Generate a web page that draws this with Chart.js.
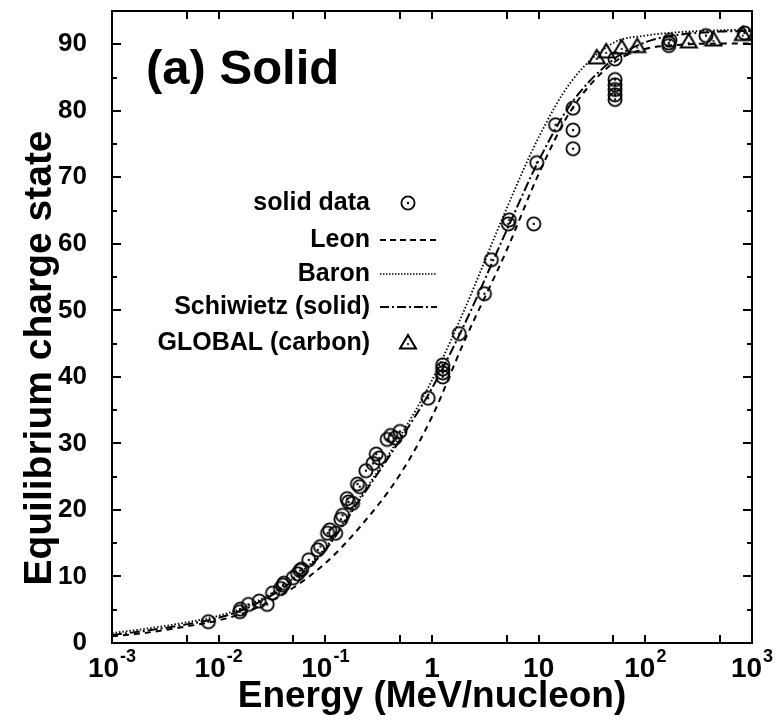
<!DOCTYPE html>
<html>
<head>
<title>Equilibrium charge state</title>
<script src="https://cdn.jsdelivr.net/npm/chart.js"></script>
<style>body{margin:0;background:#fff}</style>
</head>
<body>
<canvas id="myChart" width="776" height="723"></canvas>
<script>
// model curves at each energy (MeV/nucleon)
const curveE = [0.001, 0.002, 0.005, 0.01, 0.02, 0.05, 0.1, 0.2, 0.5, 1, 2, 5, 10, 20, 50, 100, 200, 500, 1000];
const leonQ = [1.0, 1.5, 2.5, 3.4, 4.9, 8.3, 12.0, 17.0, 25.3, 34.0, 45.3, 59.0, 70.5, 80.0, 87.2, 89.3, 89.9, 90.1, 90.1];
const baronQ = [1.5, 2.1, 3.1, 4.1, 5.8, 9.7, 14.3, 21.3, 31.0, 39.5, 50.0, 65.3, 76.0, 84.3, 90.2, 91.3, 91.8, 92.1, 92.2];
const schiwietzQ = [1.2, 1.8, 2.8, 3.8, 5.5, 9.4, 14.0, 21.0, 30.5, 38.3, 47.8, 62.0, 72.5, 81.0, 87.7, 90.3, 91.4, 91.9, 92.0];

// measured solid data
const solidE = [0.008, 0.0158, 0.016, 0.019, 0.024, 0.0285, 0.032, 0.038, 0.040, 0.041, 0.05, 0.055, 0.058, 0.06, 0.07,
  0.085, 0.09, 0.105, 0.11, 0.125, 0.14, 0.145, 0.16, 0.165, 0.18, 0.2, 0.21, 0.24, 0.28, 0.3, 0.32, 0.38, 0.41, 0.45, 0.5,
  0.92, 1.26, 1.26, 1.26, 1.26, 1.8, 3.1, 3.6, 5.2, 5.3, 9.0, 9.6, 14.4, 21, 21, 21,
  52, 52, 52, 52, 52, 52, 166, 166, 170, 370, 850];
const solidQ = [3.2, 4.7, 5.1, 5.8, 6.3, 5.8, 7.5, 8.2, 8.7, 9.0, 9.8, 10.4, 10.9, 11.1, 12.5,
  14.0, 14.5, 16.5, 17.0, 16.5, 18.6, 19.2, 21.7, 21.2, 21.0, 23.9, 23.5, 25.9, 27.0, 28.4, 27.8, 30.6, 31.2, 30.8, 31.8,
  36.8, 40.0, 40.6, 41.2, 41.8, 46.5, 52.5, 57.6, 63.0, 63.6, 63.0, 72.2, 77.9, 80.4, 77.1, 74.3,
  87.8, 84.7, 83.9, 83.2, 82.4, 81.7, 89.8, 90.2, 90.6, 91.3, 91.7];

// GLOBAL (carbon)
const globalE = [35, 43, 60, 84, 255, 435, 820];
const globalQ = [88.1, 89.0, 89.6, 89.8, 90.5, 90.8, 91.6];

const yTickValues = [0, 10, 20, 30, 40, 50, 60, 70, 80, 90];
const yMarks = [5, 10, 15, 20, 25, 30, 35, 40, 45, 50, 55, 60, 65, 70, 75, 80, 85, 90];
const xMarks = [0.001, 0.005, 0.01, 0.05, 0.1, 0.5, 1, 5, 10, 50, 100, 500, 1000];
const xLabelValues = [0.001, 0.01, 0.1, 1, 10, 100, 1000];
const xLabelBase = ['10', '10', '10', '1', '10', '10', '10'];
const xLabelExp = ['-3', '-2', '-1', '', '', '2', '3'];

const legendLabels = ['solid data', 'Leon', 'Baron', 'Schiwietz (solid)', 'GLOBAL (carbon)'];
const FONT = "'Liberation Sans', Arial, sans-serif";

function pts(xs, ys) { return xs.map((v, i) => ({x: v, y: ys[i]})); }

// marker images
function circleDot() {
  const c = document.createElement('canvas');
  c.width = 18; c.height = 18;
  const g = c.getContext('2d');
  g.strokeStyle = '#000'; g.lineWidth = 1.8;
  g.beginPath(); g.arc(9, 9, 6.6, 0, Math.PI * 2); g.stroke();
  g.fillStyle = '#000';
  g.beginPath(); g.arc(9, 9, 1.2, 0, Math.PI * 2); g.fill();
  return c;
}
function triDot() {
  const c = document.createElement('canvas');
  c.width = 20; c.height = 18;
  const g = c.getContext('2d');
  g.strokeStyle = '#000'; g.lineWidth = 2; g.lineJoin = 'miter';
  g.beginPath(); g.moveTo(10, 2); g.lineTo(18, 15.5); g.lineTo(2, 15.5); g.closePath(); g.stroke();
  g.fillStyle = '#000';
  g.beginPath(); g.arc(10, 11, 1.1, 0, Math.PI * 2); g.fill();
  return c;
}
const circImg = circleDot();
const triImg = triDot();

const decor = {
  id: 'decor',
  afterDatasetsDraw(chart) {
    const {ctx, chartArea: a, scales: {x, y}} = chart;
    ctx.save();
    ctx.strokeStyle = '#000';
    ctx.lineWidth = 2;
    ctx.strokeRect(a.left, a.top, a.right - a.left, a.bottom - a.top);
    ctx.beginPath();
    xMarks.forEach(v => {
      const px = Math.round(x.getPixelForValue(v));
      ctx.moveTo(px, a.bottom); ctx.lineTo(px, a.bottom - 8);
      ctx.moveTo(px, a.top); ctx.lineTo(px, a.top + 8);
    });
    yMarks.forEach(v => {
      const py = Math.round(y.getPixelForValue(v));
      const len = v % 10 === 0 ? 9 : 5;
      ctx.moveTo(a.left, py); ctx.lineTo(a.left + len, py);
      ctx.moveTo(a.right, py); ctx.lineTo(a.right - len, py);
    });
    ctx.stroke();

    // x tick labels with superscripts
    ctx.fillStyle = '#000';
    ctx.textBaseline = 'alphabetic';
    ctx.textAlign = 'left';
    xLabelValues.forEach((v, i) => {
      const px = x.getPixelForValue(v);
      ctx.font = 'bold 28px ' + FONT;
      const wb = ctx.measureText(xLabelBase[i]).width;
      ctx.font = 'bold 18px ' + FONT;
      const we = xLabelExp[i] ? ctx.measureText(xLabelExp[i]).width + 1 : 0;
      const x0 = px - (wb + we) / 2;
      ctx.font = 'bold 28px ' + FONT;
      ctx.fillText(xLabelBase[i], x0, 677);
      if (xLabelExp[i]) {
        ctx.font = 'bold 18px ' + FONT;
        ctx.fillText(xLabelExp[i], x0 + wb + 1, 662);
      }
    });

    // y axis title, centred a little below the plot middle as in the figure
    ctx.save();
    ctx.translate(40, 358);
    ctx.rotate(-Math.PI / 2);
    ctx.textAlign = 'center';
    ctx.textBaseline = 'middle';
    ctx.font = 'bold 39px ' + FONT;
    ctx.fillText('Equilibrium charge state', 0, 0);
    ctx.restore();

    // panel label
    ctx.font = 'bold 49px ' + FONT;
    ctx.fillText('(a) Solid', 146, 84);

    // legend
    const rows = [203, 240, 274, 307, 343];
    ctx.font = 'bold 25px ' + FONT;
    ctx.textAlign = 'right';
    ctx.textBaseline = 'middle';
    legendLabels.forEach((t, i) => ctx.fillText(t, 370, rows[i]));
    ctx.drawImage(circImg, 408 - 9, rows[0] - 9);
    ctx.drawImage(triImg, 408 - 10, rows[4] - 10);
    const dashes = [[6, 4], [1.5, 1.5], [9, 3, 2, 3]];
    dashes.forEach((d, i) => {
      ctx.beginPath();
      ctx.setLineDash(d);
      ctx.lineWidth = i === 1 ? 1.6 : 1.8;
      ctx.moveTo(380, rows[i + 1]); ctx.lineTo(437, rows[i + 1]);
      ctx.stroke();
    });
    ctx.restore();
  }
};

const ctx = document.getElementById('myChart').getContext('2d');
const chart = new Chart(ctx, {
  type: 'scatter',
  data: {
    datasets: [
      {label: 'Leon', data: pts(curveE, leonQ), showLine: true, pointRadius: 0, borderColor: '#000',
        borderWidth: 2, borderDash: [6, 5], cubicInterpolationMode: 'monotone'},
      {label: 'Baron', data: pts(curveE, baronQ), showLine: true, pointRadius: 0, borderColor: '#000',
        borderWidth: 1.8, borderDash: [1.5, 2], cubicInterpolationMode: 'monotone'},
      {label: 'Schiwietz (solid)', data: pts(curveE, schiwietzQ), showLine: true, pointRadius: 0, borderColor: '#000',
        borderWidth: 2, borderDash: [10, 3, 2, 3], cubicInterpolationMode: 'monotone'},
      {label: 'solid data', data: pts(solidE, solidQ), pointStyle: circImg, pointRadius: 7},
      {label: 'GLOBAL (carbon)', data: pts(globalE, globalQ), pointStyle: triImg, pointRadius: 7}
    ]
  },
  options: {
    responsive: false,
    animation: false,
    devicePixelRatio: 1,
    layout: {padding: {top: 11, right: 24, left: 0, bottom: 0}},
    plugins: {legend: {display: false}, tooltip: {enabled: false}},
    scales: {
      x: {
        type: 'logarithmic', min: 0.001, max: 1000,
        grid: {display: false}, border: {display: false},
        ticks: {display: false},
        title: {display: true, text: 'Energy (MeV/nucleon)', color: '#000',
          font: {family: FONT, size: 37, weight: 'bold'}, padding: {top: 0, bottom: 4}},
        afterFit: s => { s.height = 80; s.paddingLeft = 0; s.paddingRight = 0; }
      },
      y: {
        min: 0, max: 95,
        grid: {display: false}, border: {display: false},
        afterBuildTicks: s => { s.ticks = yTickValues.map(v => ({value: v})); },
        ticks: {color: '#000', padding: 17, font: {family: FONT, size: 26, weight: 'bold'}},
        title: {display: false},
        afterFit: s => { s.width = 112; s.paddingTop = 0; s.paddingBottom = 0; }
      }
    }
  },
  plugins: [decor]
});
</script>
</body>
</html>
